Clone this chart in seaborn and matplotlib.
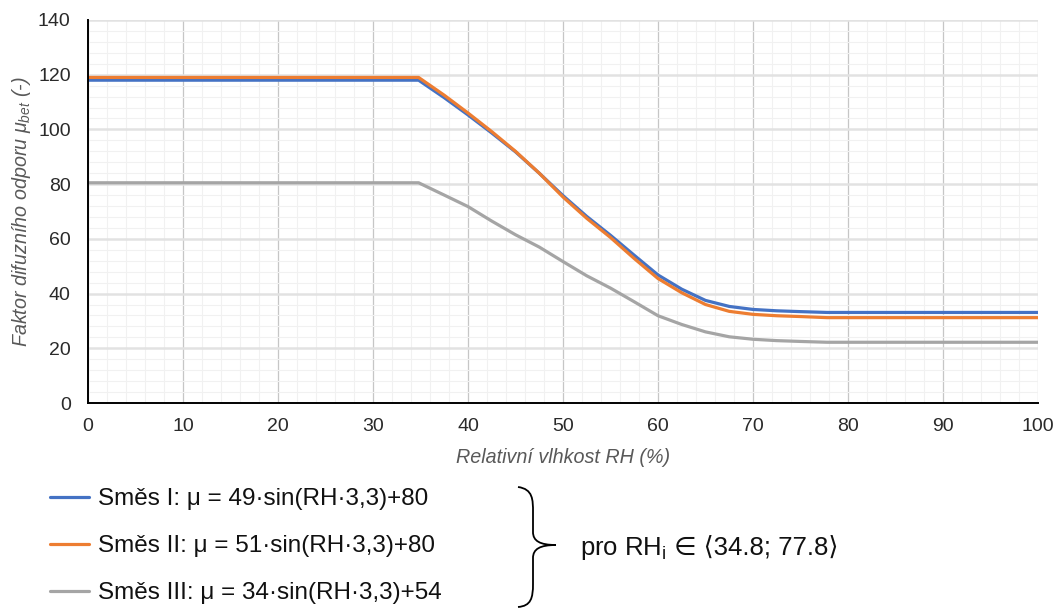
import numpy as np
import pandas as pd
import matplotlib
matplotlib.use("Agg")
import matplotlib.pyplot as plt
from matplotlib.path import Path
from matplotlib.patches import PathPatch
from matplotlib.ticker import MultipleLocator
import seaborn as sns

# ---- data ----
rh = [0, 34.8, 37.5, 40, 42.5, 45, 47.5, 50, 52.5, 55, 57.5, 60, 62.5, 65, 67.5, 70, 72.5, 75, 77.8, 100]
smes_1 = [118, 118, 111.6, 105.3, 98.7, 91.8, 84.0, 75.8, 68.2, 61.3, 54.0, 46.8, 41.6, 37.5, 35.3, 34.2, 33.7, 33.4, 33.1, 33.1]
smes_2 = [119, 119, 112.5, 106.0, 99.2, 92.0, 84.0, 75.3, 67.5, 60.5, 52.8, 45.5, 40.3, 36.0, 33.5, 32.4, 31.9, 31.6, 31.2, 31.2]
smes_3 = [80.5, 80.5, 76.0, 71.8, 66.5, 61.5, 57.0, 51.7, 46.5, 42.0, 37.0, 31.9, 28.7, 26.0, 24.2, 23.3, 22.8, 22.5, 22.2, 22.2]

series_labels = [
    "Směs I: μ = 49·sin(RH·3,3)+80",
    "Směs II: μ = 51·sin(RH·3,3)+80",
    "Směs III: μ = 34·sin(RH·3,3)+54",
]
series_colors = ["#4472C4", "#ED7D31", "#A5A5A5"]
x_label = "Relativní vlhkost RH (%)"
y_label = r"Faktor difuzního odporu $μ_{bet}$ (-)"
range_note_a = r"pro RH$_\mathregular{i}$"
range_note_b = " ∈ ⟨34.8; 77.8⟩"

# ---- style ----
sns.set_theme(style="white")
plt.rcParams["font.family"] = ["Liberation Sans", "DejaVu Sans"]
plt.rcParams["mathtext.fontset"] = "custom"
plt.rcParams["mathtext.rm"] = "Liberation Sans"
plt.rcParams["mathtext.it"] = "Liberation Sans:italic"
plt.rcParams["mathtext.bf"] = "Liberation Sans:bold"

W, H = 1057, 608
fig = plt.figure(figsize=(W / 100, H / 100), dpi=100)
ax = fig.add_axes([88 / W, 1 - 403 / H, (1038 - 88) / W, (403 - 20) / H])

df = pd.DataFrame({"RH": rh, "s1": smes_1, "s2": smes_2, "s3": smes_3})
for col, lab, c in zip(["s1", "s2", "s3"], series_labels, series_colors):
    sns.lineplot(data=df, x="RH", y=col, ax=ax, color=c, linewidth=2.3,
                 label=lab, zorder=3)

ax.set_xlim(0, 100)
ax.set_ylim(0, 140)
ax.xaxis.set_major_locator(MultipleLocator(10))
ax.xaxis.set_minor_locator(MultipleLocator(2))
ax.yaxis.set_major_locator(MultipleLocator(20))
ax.yaxis.set_minor_locator(MultipleLocator(4))

ax.grid(which="minor", color="#f1f1f1", linewidth=0.8, zorder=0)
ax.grid(which="major", axis="x", color="#c6c6c6", linewidth=0.9, zorder=1)
ax.grid(which="major", axis="y", color="#e2e2e2", linewidth=1.8, zorder=1)
ax.set_axisbelow(True)

for s in ["top", "right"]:
    ax.spines[s].set_visible(False)
for s in ["left", "bottom"]:
    ax.spines[s].set_color("black")
    ax.spines[s].set_linewidth(1.4)
    ax.spines[s].set_zorder(4)

ax.tick_params(which="major", direction="inout", length=9, width=1.1,
               color="black", labelsize=14, labelcolor="#2a2a2a")
ax.tick_params(axis="y", which="major", pad=8)
ax.tick_params(axis="x", which="major", pad=6.5)
ax.tick_params(which="minor", length=0)

ax.set_xlabel(x_label, fontsize=14.2, style="italic", color="#595959", labelpad=9)
ax.set_ylabel(y_label, fontsize=14.2, style="italic", color="#595959", labelpad=3.5)

leg = ax.legend(loc="upper left", bbox_to_anchor=(50 / W, 1 - 488 / H),
                bbox_transform=fig.transFigure, frameon=False, fontsize=17.5,
                borderpad=0, borderaxespad=0, handlelength=1.6,
                handletextpad=0.38, labelspacing=1.03)
for t in leg.get_texts():
    t.set_color("#111111")
for h in leg.get_lines():
    h.set_linewidth(2.3)

# ---- curly brace ----
def P(px, py):
    return (px / W, 1 - py / H)

verts = [P(518, 487), P(533, 489), P(533, 500), P(533, 512),
         P(533, 532),
         P(533, 541), P(540, 545), P(556, 545),
         P(540, 545), P(533, 549), P(533, 558),
         P(533, 584),
         P(533, 598), P(531, 606), P(518, 607)]
codes = [Path.MOVETO, Path.CURVE4, Path.CURVE4, Path.CURVE4,
         Path.LINETO,
         Path.CURVE4, Path.CURVE4, Path.CURVE4,
         Path.CURVE4, Path.CURVE4, Path.CURVE4,
         Path.LINETO,
         Path.CURVE4, Path.CURVE4, Path.CURVE4]
fig.patches.append(PathPatch(Path(verts, codes), transform=fig.transFigure,
                             facecolor="none", edgecolor="black", linewidth=1.3))

t1 = fig.text(580 / W, 1 - 548 / H, range_note_a, fontsize=18.5, color="#111111",
              va="center", ha="left")
fig.canvas.draw()
r = fig.canvas.get_renderer()
bb = t1.get_window_extent(r)
fig.text(bb.x1 / W, 1 - 548 / H, range_note_b, fontsize=18.5, color="#111111",
         va="center", ha="left", family=["Liberation Sans", "DejaVu Sans"])

fig.savefig("out.png", dpi=100)
